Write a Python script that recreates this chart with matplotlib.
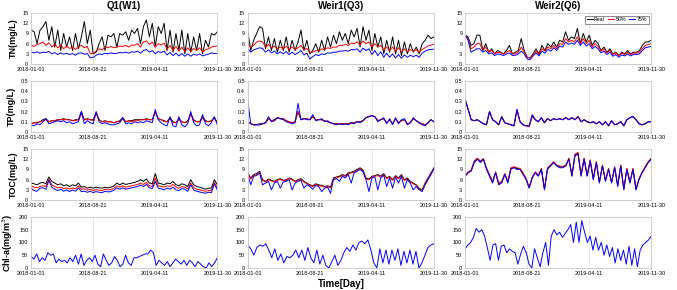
import matplotlib
matplotlib.use("Agg")
import matplotlib.pyplot as plt
import matplotlib.dates as mdates
from matplotlib.ticker import FuncFormatter
import pandas as pd

plt.rcParams['font.family'] = ['Liberation Sans', 'DejaVu Sans']

START, END = '2018-01-01', '2019-11-30'
XTICKS = ['2018-01-01', '2018-08-21', '2019-04-11', '2019-11-30']
stations = ['Q1(W1)', 'Weir1(Q3)', 'Weir2(Q6)']
variables = ['TN(mg/L)', 'TP(mg/L)', 'TOC(mg/L)', 'Chl-a(mg/m$^3$)']
yticks = [[0, 3, 6, 9, 12, 15], [0, 0.1, 0.2, 0.3, 0.4, 0.5],
          [0, 3, 6, 9, 12, 15], [0, 50, 100, 150, 200]]
legend_labels = ['Real', '50%', '75%']

# ---------------- TN ----------------
tn_q1_real = [10, 9.5, 6, 10, 11, 12.5, 7, 11, 5, 10, 4, 9, 5, 8, 4, 9, 4.5, 8, 12.5, 6, 10, 3, 3.5, 6, 8, 4,
              8.5, 8, 9, 5, 9, 8.5, 9.5, 7, 10, 9, 10.5, 6, 11, 13, 8, 12, 5, 11, 9, 12, 4, 10, 3.5, 9, 4, 10,
              3, 9, 3.5, 8, 4, 9, 3, 7, 5, 9, 8.5, 9.5]
tn_q1_50 = [5.5, 5.2, 5.8, 6, 6.5, 5.5, 6.3, 5, 5.8, 4.8, 5.6, 4.5, 5.3, 4.6, 5, 4.3, 5, 5.5, 4.8, 5.2, 3, 3.2,
            3.8, 4.5, 4.2, 5, 4.8, 5.2, 4.8, 5, 5.3, 5.2, 5.5, 5, 5.6, 5.5, 6, 5, 6.5, 6.8, 5.8, 6.5, 5, 6, 5.6,
            6.2, 4.3, 5.5, 4, 5.2, 3.8, 5, 3.6, 4.8, 3.7, 4.6, 4, 4.8, 3.6, 4.2, 4.5, 5, 5.2, 5.3]
tn_q1_75 = [3.5, 3.3, 3.6, 3.2, 3.5, 3.4, 3.7, 3, 3.4, 2.8, 3.3, 2.9, 3.2, 2.8, 3.1, 2.6, 3.2, 3.3, 2.9, 3.1, 1.8,
            2, 2.6, 3, 2.8, 3.2, 3, 3.3, 3.1, 3.2, 3.4, 3.3, 3.5, 3.2, 3.6, 3.5, 3.8, 3.2, 4, 4.3, 3.5, 4, 3, 3.7,
            3.4, 3.8, 2.7, 3.4, 2.5, 3.2, 2.4, 3.1, 2.3, 3, 2.3, 2.9, 2.6, 3, 2.4, 2.7, 2.9, 3.3, 3.1, 3.1]

tn_q3_real = [9.5, 4, 7, 9, 11, 10.5, 4.5, 8, 4, 7.5, 3.5, 7, 4, 8, 3.5, 7, 4, 6.5, 10, 4, 7, 3, 4, 6, 3.5, 7, 4,
              8, 5, 8.5, 6, 9.5, 7, 9, 6, 10, 8, 10.5, 5, 11, 7, 10, 4, 9, 5, 8, 3, 7, 3.5, 8, 3, 7, 2.5, 6.5, 3, 6,
              3.5, 5, 3, 6, 7, 8.5, 7.5, 8]
tn_q3_50 = [6, 5, 5.5, 6.5, 6.8, 6.5, 5, 5.8, 4.8, 5.3, 4.5, 5, 4.5, 5.2, 4.3, 5, 4.3, 4.8, 5.5, 4.2, 4.6, 3.3,
            3.5, 4, 3.8, 4.5, 4.3, 4.8, 4.6, 5, 5, 5.5, 5.5, 5.8, 5.5, 6.2, 6, 6.5, 5.6, 6.8, 6, 6.5, 5, 6, 5, 5.5,
            4.2, 5, 4, 5, 3.8, 4.8, 3.6, 4.5, 3.6, 4.3, 3.8, 4.2, 3.6, 4.3, 4.8, 5.3, 5.6, 5.8]
tn_q3_75 = [4.5, 3.5, 4.2, 4.5, 4.8, 4.6, 3.5, 4.2, 3.3, 3.8, 3, 3.6, 3, 3.7, 2.8, 3.5, 2.8, 3.3, 4, 2.7, 3.2,
            1.5, 2.2, 2.8, 2.5, 3, 2.8, 3.3, 3.2, 3.5, 3.5, 3.8, 3.8, 4, 3.8, 4.3, 4.2, 4.5, 3.5, 4.7, 4, 4.5, 2.8,
            4, 2.5, 3.6, 2, 3.2, 2, 3, 1.8, 2.8, 1.7, 2.7, 2, 2.6, 2.2, 2.6, 2, 3.2, 3.8, 4.2, 4.3, 4.4]

tn_q6_real = [8.5, 8, 5.5, 6, 8.5, 8.5, 4, 6, 3.5, 4.5, 3, 4, 3.5, 3, 4, 5.5, 3, 3.5, 4, 7.5, 4, 2, 1.8, 3, 4.5,
              3, 5.5, 4, 6, 5, 6.5, 5, 7, 6.5, 9.5, 7, 8, 7.5, 10.5, 6, 9, 6.5, 8.5, 5.5, 7, 6, 4, 5, 3.5, 4.5, 3,
              3.5, 2.5, 3.5, 3, 4, 3, 3.5, 3.5, 4, 5.5, 6.5, 6.5, 7]
tn_q6_50 = [8.5, 7.5, 4.5, 5, 6, 6, 4, 5, 3.5, 4, 3, 3.5, 3.3, 3, 3.5, 4, 3, 3, 3.5, 5, 3.5, 2, 1.8, 2.8, 3.8,
            2.8, 4.5, 3.8, 5, 4.5, 5.5, 4.5, 6, 5.8, 7.5, 6.5, 7, 6.5, 8, 6, 7.5, 6, 7, 5, 6, 5.2, 3.8, 4.5, 3.3,
            4, 2.8, 3.3, 2.5, 3.2, 2.8, 3.5, 2.8, 3.2, 3.2, 3.5, 4.5, 5.5, 5.8, 6]
tn_q6_75 = [8.5, 7, 3.5, 4, 4.5, 4.5, 3.5, 4, 3, 3.3, 2.5, 3, 2.8, 2.5, 3, 3.3, 2.5, 2.6, 3, 3.8, 3, 1.5, 1.3,
            2.4, 3.3, 2.4, 3.8, 3.2, 4.3, 3.8, 4.8, 4, 5.3, 5, 6.5, 5.8, 6.2, 5.8, 7, 5.5, 6.5, 5.3, 6, 4.5, 5.2,
            4.5, 3.3, 3.8, 2.8, 3.5, 2.3, 2.8, 2, 2.7, 2.4, 3, 2.4, 2.8, 2.8, 3, 4, 4.8, 5, 5.2]

# ---------------- TP ----------------
tp_q1_real = [.08, .09, .09, .1, .12, .13, .1, .11, .11, .12, .12, .13, .12, .12, .11, .12, .12, .2, .12, .13,
              .12, .12, .19, .12, .1, .11, .1, .1, .09, .1, .11, .14, .1, .11, .11, .12, .12, .12, .12, .13, .12,
              .12, .2, .13, .12, .11, .1, .14, .1, .09, .13, .1, .09, .11, .18, .12, .1, .1, .15, .11, .1, .11,
              .14, .09]
tp_q1_50 = [.08, .09, .09, .1, .11, .12, .1, .11, .11, .12, .12, .12, .12, .12, .11, .11, .12, .18, .12, .12,
            .12, .11, .18, .12, .1, .1, .1, .1, .09, .1, .1, .13, .1, .11, .1, .11, .11, .12, .12, .12, .12, .12,
            .19, .13, .12, .1, .1, .13, .09, .09, .12, .1, .09, .1, .17, .11, .1, .1, .14, .1, .1, .11, .14, .09]
tp_q1_75 = [.07, .06, .08, .07, .1, .13, .08, .09, .1, .11, .1, .11, .09, .1, .08, .09, .1, .2, .08, .11, .09,
            .08, .2, .1, .08, .09, .08, .07, .07, .08, .09, .14, .08, .09, .08, .1, .09, .1, .09, .11, .1, .09,
            .22, .12, .09, .07, .06, .15, .06, .05, .15, .07, .05, .08, .2, .09, .06, .07, .17, .08, .06, .09,
            .15, .07]

tp_q3_real = [.1, .08, .07, .07, .08, .08, .09, .13, .11, .12, .14, .13, .13, .11, .1, .09, .1, .2, .12, .13,
              .13, .12, .15, .12, .12, .12, .11, .1, .09, .08, .08, .08, .08, .08, .08, .09, .09, .1, .1, .11,
              .14, .15, .16, .15, .11, .12, .13, .09, .12, .08, .13, .09, .11, .12, .08, .09, .13, .11, .09, .08,
              .07, .09, .12, .1]
tp_q3_50 = [.1, .08, .07, .07, .07, .08, .09, .13, .11, .11, .14, .13, .13, .11, .1, .09, .1, .2, .12, .13, .13,
            .12, .15, .12, .12, .12, .11, .1, .09, .08, .08, .08, .08, .08, .08, .09, .09, .1, .1, .11, .14, .15,
            .16, .15, .11, .12, .13, .09, .12, .08, .13, .09, .11, .12, .08, .09, .13, .11, .09, .08, .07, .09,
            .12, .1]
tp_q3_75 = [.31, .08, .07, .07, .07, .08, .09, .15, .1, .11, .14, .13, .12, .1, .09, .08, .09, .28, .12, .13,
            .12, .12, .17, .11, .12, .13, .1, .11, .09, .08, .07, .08, .07, .08, .07, .09, .08, .1, .09, .11, .14,
            .15, .16, .15, .1, .12, .14, .08, .13, .07, .14, .08, .12, .13, .07, .09, .14, .11, .09, .07, .06,
            .09, .12, .1]

tp_q6_real = [.32, .22, .12, .11, .12, .1, .08, .07, .2, .12, .1, .07, .15, .09, .08, .07, .06, .22, .1, .07,
              .06, .06, .16, .12, .1, .14, .09, .13, .11, .13, .12, .13, .12, .14, .12, .14, .12, .15, .1, .12,
              .1, .09, .1, .08, .1, .07, .1, .06, .11, .07, .08, .1, .06, .12, .14, .15, .12, .08, .07, .08, .1, .1]
tp_q6_50 = [.32, .22, .12, .11, .12, .1, .08, .07, .2, .12, .1, .07, .15, .09, .08, .07, .06, .21, .1, .07, .06,
            .05, .15, .12, .1, .14, .09, .13, .11, .13, .12, .13, .12, .14, .12, .14, .12, .15, .1, .12, .1, .09,
            .1, .08, .1, .07, .1, .06, .11, .07, .08, .1, .06, .12, .14, .15, .12, .08, .07, .08, .1, .1]
tp_q6_75 = [.32, .22, .12, .11, .12, .1, .08, .07, .2, .12, .1, .07, .15, .09, .08, .07, .06, .22, .1, .07, .06,
            .06, .17, .12, .1, .14, .09, .13, .11, .13, .12, .13, .12, .14, .12, .14, .12, .15, .1, .12, .1, .09,
            .1, .08, .1, .07, .1, .06, .11, .07, .08, .1, .06, .12, .14, .15, .12, .08, .07, .08, .1, .1]

# ---------------- TOC ----------------
toc_q1_real = [5, 4.8, 4.5, 5, 5.2, 4.8, 6.8, 5.5, 5, 4.5, 4.8, 4.2, 4.5, 4, 4.5, 4.2, 5, 3.8, 4, 3.5, 3.8, 3.5,
               3.8, 3.6, 3.5, 3.8, 3.6, 3.8, 4.2, 5, 4.5, 5, 4.6, 4.8, 5, 5.2, 5.5, 6, 5.5, 6.2, 5, 4.8, 7.8, 5,
               4.8, 4.5, 5, 4.8, 5.5, 4.5, 4.2, 4.8, 4.5, 4, 6, 4.5, 4, 3.8, 3.5, 3.2, 3.5, 3.5, 6, 4.5]
toc_q1_50 = [4.2, 3.8, 3.6, 4, 4.2, 4, 6.2, 4.5, 4, 3.6, 3.8, 3.4, 3.6, 3.2, 3.6, 3.3, 4.2, 3.2, 3.3, 2.9, 3.2,
             2.8, 3.1, 2.9, 2.8, 3.2, 3, 3.1, 3.5, 4.2, 3.8, 4.2, 3.8, 4, 4.2, 4.4, 4.6, 5, 4.6, 5.2, 4.2, 4, 6.5,
             4.2, 4, 3.8, 4.2, 4, 4.6, 3.8, 3.5, 4, 3.8, 3.3, 5, 3.7, 3.2, 3, 2.8, 2.6, 2.8, 2.8, 5.2, 3.6]
toc_q1_75 = [3.5, 2.8, 2.6, 3.5, 3.6, 3.2, 5.8, 3.8, 3.2, 2.8, 3.2, 2.6, 3, 2.5, 3, 2.6, 3.6, 2.5, 2.6, 2.3, 2.6,
             2.2, 2.5, 2.3, 2.2, 2.6, 2.4, 2.5, 2.9, 3.6, 3.2, 3.6, 3.2, 3.4, 3.6, 3.8, 4, 4.4, 4, 4.6, 3.6, 3.4,
             5.5, 3.5, 3.3, 3, 3.5, 3.2, 3.8, 3, 2.8, 3.4, 3.2, 2.6, 4.5, 3, 2.6, 2.4, 2.2, 2, 2.3, 2.2, 4.8, 3]

toc_q3_real = [8, 6.5, 7.5, 7.8, 8.5, 6, 5.5, 6.2, 5.8, 5.5, 6, 6.3, 5.8, 6, 6.5, 6.2, 5.5, 6, 6.3, 5.5, 5, 4.5,
               4.2, 4.8, 4.5, 4.3, 4, 4.2, 3.8, 6.5, 6.8, 7, 7.5, 7.2, 8, 8.2, 8.5, 9, 9.5, 8.8, 6.5, 6.2, 7, 7.2,
               7.5, 7, 7.8, 6.5, 7, 6, 7.2, 6.5, 7.5, 6, 6.5, 5.5, 5, 4.5, 3.5, 3, 5, 6.5, 8, 9.5]
toc_q3_50 = [7.8, 6.2, 7.2, 7.5, 8.2, 5.8, 5.3, 6, 5.6, 5.3, 5.8, 6.1, 5.6, 5.8, 6.3, 6, 5.3, 5.8, 6.1, 5.3, 4.8,
             4.3, 4, 4.6, 4.3, 4.1, 3.8, 4, 3.6, 6.2, 6.5, 6.8, 7.2, 7, 7.7, 8, 8.2, 8.7, 9.2, 8.5, 6.2, 6, 6.7,
             7, 7.2, 6.8, 7.5, 6.3, 6.8, 5.8, 7, 6.3, 7.2, 5.8, 6.2, 5.3, 4.8, 4.3, 3.3, 2.9, 4.8, 6.3, 7.8, 9.3]
toc_q3_75 = [7.5, 4.5, 7, 7.2, 8, 4.5, 5, 5.5, 3, 5, 5.5, 3.5, 5.3, 5.5, 6, 3, 5, 5.5, 5.8, 3.5, 4.5, 4, 3.2,
             4.3, 4, 2.5, 3.5, 3.8, 2, 6, 6.3, 5.5, 7, 6.5, 7.5, 5, 8, 8.5, 9, 8.3, 6, 2.5, 6.5, 6.8, 3, 6.5, 7.3,
             4, 6.5, 3.5, 6.8, 5, 7, 3.5, 6, 5, 3, 4, 3, 2.5, 4.5, 6, 7.5, 9.2]

toc_q6_real = [7.1, 8.2, 8.7, 11.3, 12.2, 11.3, 12.1, 9.3, 7.3, 5.3, 8.2, 4.8, 5.3, 7.7, 5.3, 9.3, 9.7, 9.3, 9.2,
               7.8, 6.2, 3.7, 6.7, 8.2, 7.2, 9.2, 3.2, 9.3, 10.2, 11.2, 10.2, 9.8, 9.7, 10.2, 12.2, 7.2, 13.3,
               13.8, 7.3, 12.2, 7.2, 11.7, 6.2, 11.2, 5.2, 10.2, 5.7, 9.2, 5.2, 9.7, 4.2, 10.2, 3.2, 9.2, 5.2, 9.2,
               3.2, 6.2, 8.2, 9.7, 11.2, 12.2]
toc_q6_50 = [7.2, 8.3, 8.8, 11.5, 12.3, 11.5, 12.2, 9.5, 7.5, 5.5, 8.3, 5, 5.5, 7.8, 5.5, 9.5, 9.8, 9.5, 9.3, 8,
             6.3, 3.8, 6.8, 8.3, 7.3, 9.3, 3.3, 9.5, 10.3, 11.3, 10.3, 10, 9.8, 10.3, 12.3, 7.3, 13.5, 14, 7.5,
             12.3, 7.3, 11.8, 6.3, 11.3, 5.3, 10.3, 5.8, 9.3, 5.3, 9.8, 4.3, 10.3, 3.3, 9.3, 5.3, 9.3, 3.3, 6.3,
             8.3, 9.8, 11.3, 12.3]
toc_q6_75 = [7, 8, 8.5, 11, 12, 11, 12, 9, 7, 5, 8, 4.5, 5, 7.5, 5, 9, 9.5, 9, 9, 7.5, 6, 3.5, 6.5, 8, 7, 9, 3, 9,
             10, 11, 10, 9.5, 9.5, 10, 12, 7, 13, 13.5, 7, 12, 7, 11.5, 6, 11, 5, 10, 5.5, 9, 5, 9.5, 4, 10, 3, 9,
             5, 9, 3, 6, 8, 9.5, 11, 12]

# ---------------- Chl-a ----------------
chl_q1_75 = [45, 35, 55, 25, 40, 30, 60, 50, 55, 20, 35, 25, 30, 20, 40, 25, 50, 15, 55, 10, 30, 40, 25, 50, 15,
             5, 55, 30, 10, 20, 45, 30, 5, 15, 50, 20, 10, 40, 40, 45, 50, 55, 55, 70, 60, 10, 30, 20, 10, 25, 5,
             20, 35, 25, 15, 30, 10, 30, 20, 5, 25, 15, 5, 0, 20, 5, 20, 40]
chl_q3_75 = [90, 75, 50, 80, 90, 85, 95, 70, 40, 75, 30, 55, 20, 45, 40, 50, 70, 40, 70, 30, 80, 40, 20, 70, 15,
             50, 10, 0, 25, 50, 10, 30, 60, 80, 65, 90, 70, 100, 105, 95, 110, 70, 20, 0, 75, 20, 70, 15, 70, 30,
             75, 10, 65, 20, 70, 15, 65, 0, 20, 50, 80, 90, 95]
chl_q6_75 = [75, 90, 100, 120, 155, 140, 150, 125, 80, 30, 90, 95, 30, 85, 90, 60, 75, 65, 60, 15, 55, 85, 60, 15,
             0, 75, 40, 5, 60, 100, 10, 125, 150, 130, 140, 120, 135, 150, 170, 100, 180, 100, 185, 140, 100, 125,
             70, 120, 70, 100, 50, 90, 45, 80, 20, 75, 30, 70, 15, 85, 10, 75, 5, 70, 90, 100, 110, 125]

panels = [
    [[tn_q1_real, tn_q1_50, tn_q1_75], [tn_q3_real, tn_q3_50, tn_q3_75], [tn_q6_real, tn_q6_50, tn_q6_75]],
    [[tp_q1_real, tp_q1_50, tp_q1_75], [tp_q3_real, tp_q3_50, tp_q3_75], [tp_q6_real, tp_q6_50, tp_q6_75]],
    [[toc_q1_real, toc_q1_50, toc_q1_75], [toc_q3_real, toc_q3_50, toc_q3_75],
     [toc_q6_real, toc_q6_50, toc_q6_75]],
    [[None, None, chl_q1_75], [None, None, chl_q3_75], [None, None, chl_q6_75]],
]
colors = ['#000000', '#ff0000', '#0000ff']

fig = plt.figure(figsize=(6.77, 2.90), dpi=100)
lefts = [0.046, 0.366, 0.687]
width = 0.275
bottoms = [0.779, 0.545, 0.310, 0.076]
height = 0.176

fmt = FuncFormatter(lambda v, p: ('%g' % round(v, 3)))
xt = pd.to_datetime(XTICKS)

for r in range(4):
    for c in range(3):
        ax = fig.add_axes([lefts[c], bottoms[r], width, height])
        for k, series in enumerate(panels[r][c]):
            if series is None:
                continue
            x = pd.date_range(START, END, periods=len(series))
            ax.plot(x, series, color=colors[k], lw=0.7, label=legend_labels[k])
        ax.set_xlim(pd.Timestamp(START), pd.Timestamp(END))
        ax.set_xticks(xt)
        ax.xaxis.set_major_formatter(mdates.DateFormatter('%Y-%m-%d'))
        ax.set_yticks(yticks[r])
        ax.set_ylim(yticks[r][0], yticks[r][-1])
        ax.yaxis.set_major_formatter(fmt)
        ax.tick_params(labelsize=4, length=0, pad=2)
        ax.grid(axis='x', color='#e4e4e4', lw=0.6)
        for s in ax.spines.values():
            s.set_color('#c8c8c8')
            s.set_linewidth(0.6)
        if c == 0:
            ax.set_ylabel(variables[r], fontsize=6.5, fontweight='bold', labelpad=3)
        if r == 0:
            ax.set_title(stations[c], fontsize=7, fontweight='bold', pad=3)
        if r == 0 and c == 2:
            leg = ax.legend(loc='upper right', fontsize=3.8, frameon=True, handlelength=1.2,
                            handletextpad=0.2, borderpad=0.3, ncol=3, columnspacing=0.6,
                            fancybox=False, borderaxespad=0.5)
            leg.get_frame().set_edgecolor('#333333')
            leg.get_frame().set_linewidth(0.5)
        if r == 3 and c == 1:
            ax.set_xlabel('Time[Day]', fontsize=7, fontweight='bold', labelpad=2)

fig.savefig('out.png', dpi=100)
